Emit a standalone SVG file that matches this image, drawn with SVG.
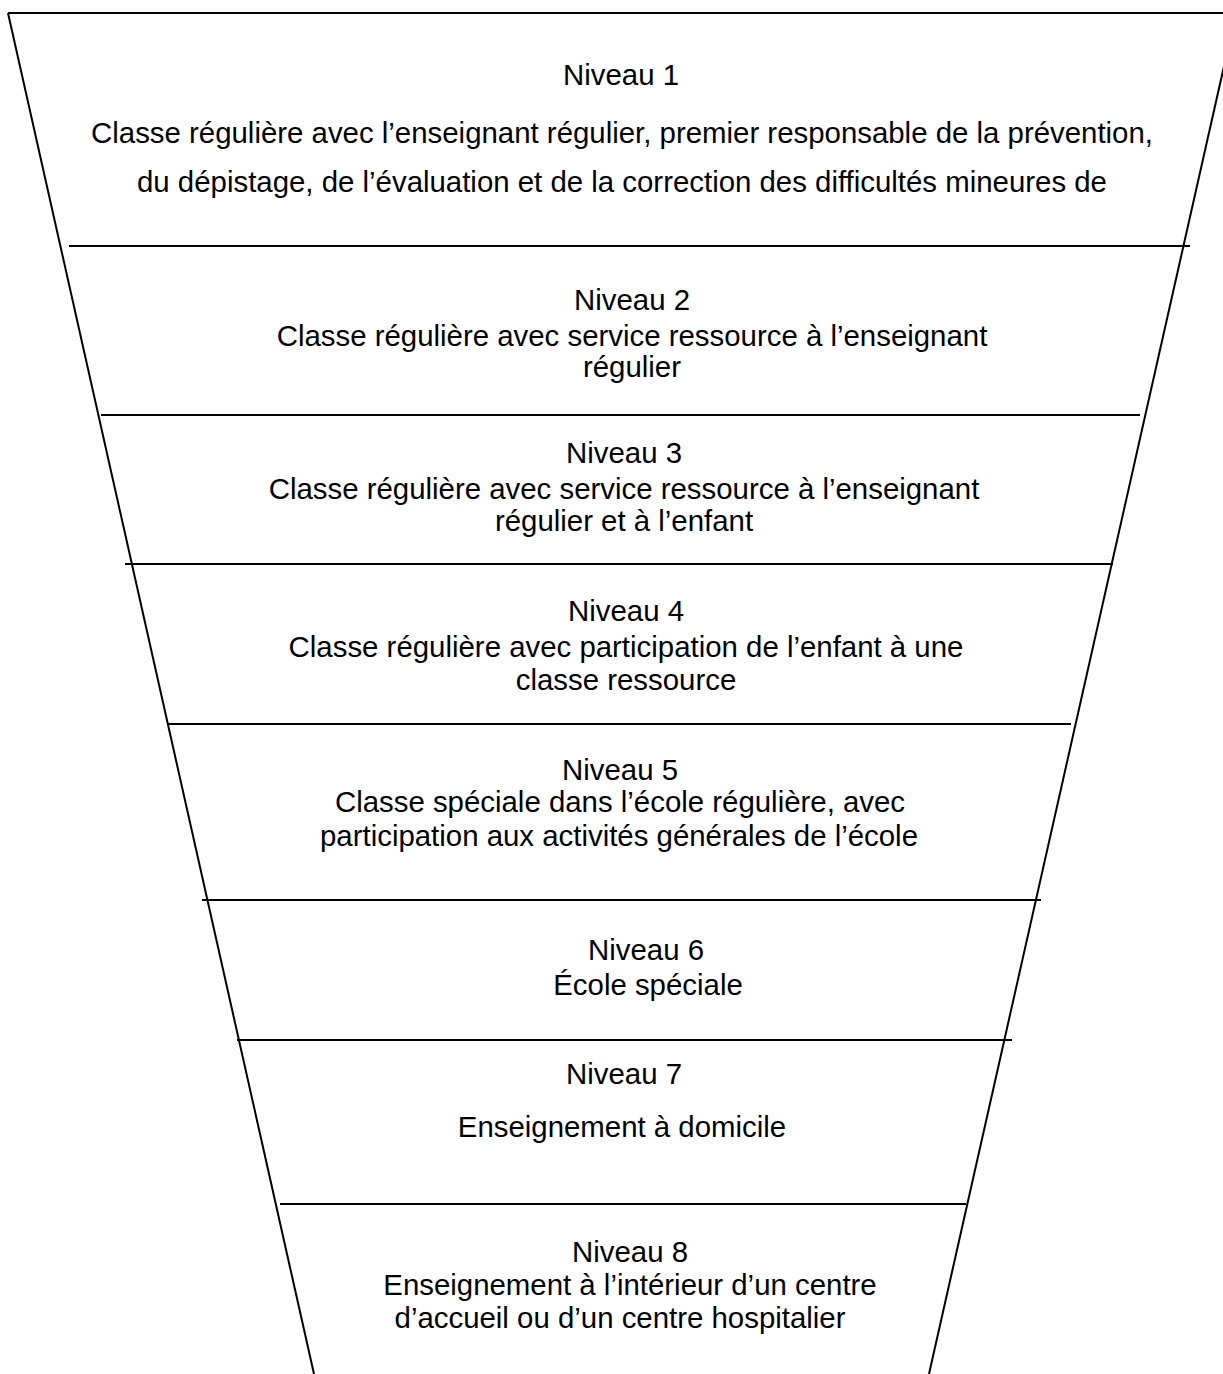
<svg xmlns="http://www.w3.org/2000/svg" width="1223" height="1374" viewBox="0 0 1223 1374">
  <style>
    .edge { stroke: #000; stroke-width: 2; fill: none; }
    .sep { stroke: #000; stroke-width: 2; }
    text { font-family: "Liberation Sans", Arial, sans-serif; font-size: 29.4px; fill: #000; text-anchor: middle; }
  </style>
  <rect x="0" y="0" width="1223" height="1374" fill="#fff"/>
  <!-- funnel outline -->
  <g id="funnel">
    <line class="edge" x1="8" y1="13" x2="1223" y2="13"/>
    <line class="edge" x1="8" y1="13" x2="314" y2="1374"/>
    <line class="edge" x1="1236" y1="13" x2="929" y2="1374"/>
  </g>
  <!-- level separators -->
  <g id="separators">
    <line class="sep" x1="69" y1="246" x2="1190" y2="246"/>
    <line class="sep" x1="101" y1="415" x2="1140" y2="415"/>
    <line class="sep" x1="125" y1="564" x2="1113" y2="564"/>
    <line class="sep" x1="168" y1="724" x2="1071" y2="724"/>
    <line class="sep" x1="202" y1="900" x2="1041" y2="900"/>
    <line class="sep" x1="237" y1="1040" x2="1012" y2="1040"/>
    <line class="sep" x1="280" y1="1204" x2="966" y2="1204"/>
  </g>
  <g id="level1">
    <text x="621" y="85">Niveau 1</text>
    <text x="622" y="143">Classe régulière avec l’enseignant régulier, premier responsable de la prévention,</text>
    <text x="622" y="192">du dépistage, de l’évaluation et de la correction des difficultés mineures de</text>
  </g>
  <g id="level2">
    <text x="632" y="310">Niveau 2</text>
    <text x="632" y="346">Classe régulière avec service ressource à l’enseignant</text>
    <text x="632" y="377">régulier</text>
  </g>
  <g id="level3">
    <text x="624" y="463">Niveau 3</text>
    <text x="624" y="499">Classe régulière avec service ressource à l’enseignant</text>
    <text x="624" y="531">régulier et à l’enfant</text>
  </g>
  <g id="level4">
    <text x="626" y="621">Niveau 4</text>
    <text x="626" y="657">Classe régulière avec participation de l’enfant à une</text>
    <text x="626" y="690">classe ressource</text>
  </g>
  <g id="level5">
    <text x="620" y="780">Niveau 5</text>
    <text x="620" y="812">Classe spéciale dans l’école régulière, avec</text>
    <text x="619" y="846">participation aux activités générales de l’école</text>
  </g>
  <g id="level6">
    <text x="646" y="960">Niveau 6</text>
    <text x="648" y="995">École spéciale</text>
  </g>
  <g id="level7">
    <text x="624" y="1084">Niveau 7</text>
    <text x="622" y="1137">Enseignement à domicile</text>
  </g>
  <g id="level8">
    <text x="630" y="1262">Niveau 8</text>
    <text x="630" y="1295">Enseignement à l’intérieur d’un centre</text>
    <text x="620" y="1328">d’accueil ou d’un centre hospitalier</text>
  </g>
</svg>
